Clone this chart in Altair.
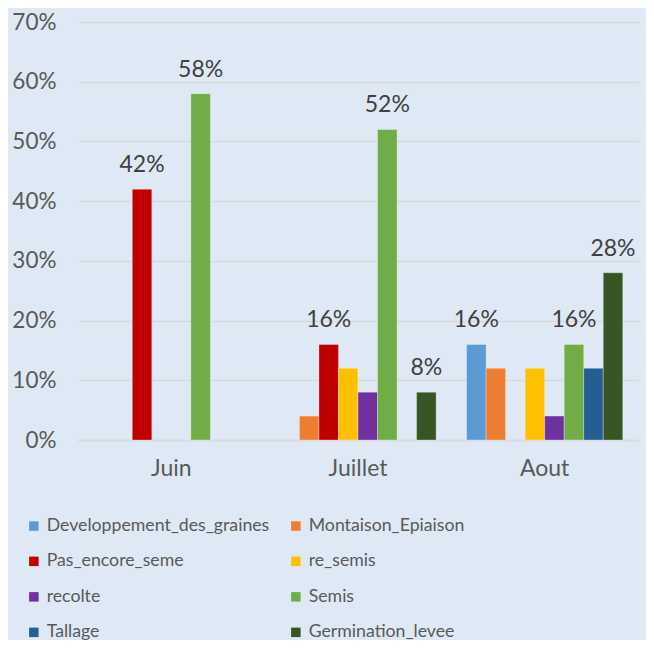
import altair as alt
import pandas as pd

months = ["Juin", "Juillet", "Aout"]
series = ["Developpement_des_graines", "Montaison_Epiaison", "Pas_encore_seme", "re_semis",
          "recolte", "Semis", "Tallage", "Germination_levee"]
colors = ["#5b9bd5", "#ed7d31", "#c00000", "#ffc000", "#7030a0", "#70ad47", "#255e91", "#375623"]

developpement = [0, 0, 16]
montaison = [0, 4, 12]
pas_encore = [42, 16, 0]
re_semis = [0, 12, 12]
recolte = [0, 8, 4]
semis = [58, 52, 16]
tallage = [0, 0, 12]
germination = [0, 8, 28]

lab_developpement = ["", "", "16%"]
lab_montaison = ["", "", ""]
lab_pas_encore = ["42%", "16%", ""]
lab_re_semis = ["", "", ""]
lab_recolte = ["", "", ""]
lab_semis = ["58%", "52%", "16%"]
lab_tallage = ["", "", ""]
lab_germination = ["", "8%", "28%"]

all_vals = [developpement, montaison, pas_encore, re_semis, recolte, semis, tallage, germination]
all_labs = [lab_developpement, lab_montaison, lab_pas_encore, lab_re_semis, lab_recolte,
            lab_semis, lab_tallage, lab_germination]

rows = []
for s, vals, labs in zip(series, all_vals, all_labs):
    for m, v, l in zip(months, vals, labs):
        rows.append({"month": m, "series": s, "value": v / 100.0, "label": l})
df = pd.DataFrame(rows)

FONT = "Lato"
TXT = "#595959"

x = alt.X("month:N", sort=months, title=None,
          scale=alt.Scale(paddingInner=0, paddingOuter=0),
          axis=alt.Axis(labelAngle=0, labelFontSize=23, labelColor=TXT, labelFont=FONT,
                        labelPadding=17, ticks=False, domainColor="#d9d9d9", domainWidth=1.5))
xoff = alt.XOffset("series:N", sort=series,
                   scale=alt.Scale(paddingInner=0, paddingOuter=0.78))
y = alt.Y("value:Q", title=None,
          scale=alt.Scale(domain=[0, 0.7], nice=False),
          axis=alt.Axis(format=".0%", values=[0, 0.1, 0.2, 0.3, 0.4, 0.5, 0.6, 0.7],
                        labelFontSize=22.5, labelColor=TXT, labelFont=FONT, labelPadding=22,
                        ticks=False, domain=False, gridColor="#d9d9d9", gridWidth=1.5))

color = alt.Color("series:N", sort=series,
                  scale=alt.Scale(domain=series, range=colors),
                  legend=alt.Legend(title=None, orient="none", legendX=-53, legendY=495,
                                    columns=2, direction="horizontal", symbolType="square",
                                    symbolSize=90, symbolStrokeWidth=0, labelFontSize=17.7,
                                    labelFont=FONT, labelColor=TXT, labelOffset=4,
                                    columnPadding=17, rowPadding=16.5, labelLimit=400))

bars = alt.Chart(df).transform_filter("datum.value > 0").mark_bar(
    stroke="#ffffff", strokeWidth=0.6, strokeOpacity=0.5).encode(
    x=x, xOffset=xoff, y=y, color=color)

texts = alt.Chart(df).transform_filter("datum.label != ''").mark_text(
    baseline="alphabetic", dy=-17, fontSize=23, font=FONT, color="#404040").encode(
    x=x, xOffset=xoff, y=y, text="label:N")

chart = alt.layer(bars, texts).properties(
    width=560, height=418,
    autosize=alt.AutoSizeParams(type="none"),
    padding={"left": 70, "top": 14, "right": 8, "bottom": 200},
    background="#dee9f5",
).configure_view(stroke=None)

chart.save("out.html", embed_options={"renderer": "svg", "actions": False})
